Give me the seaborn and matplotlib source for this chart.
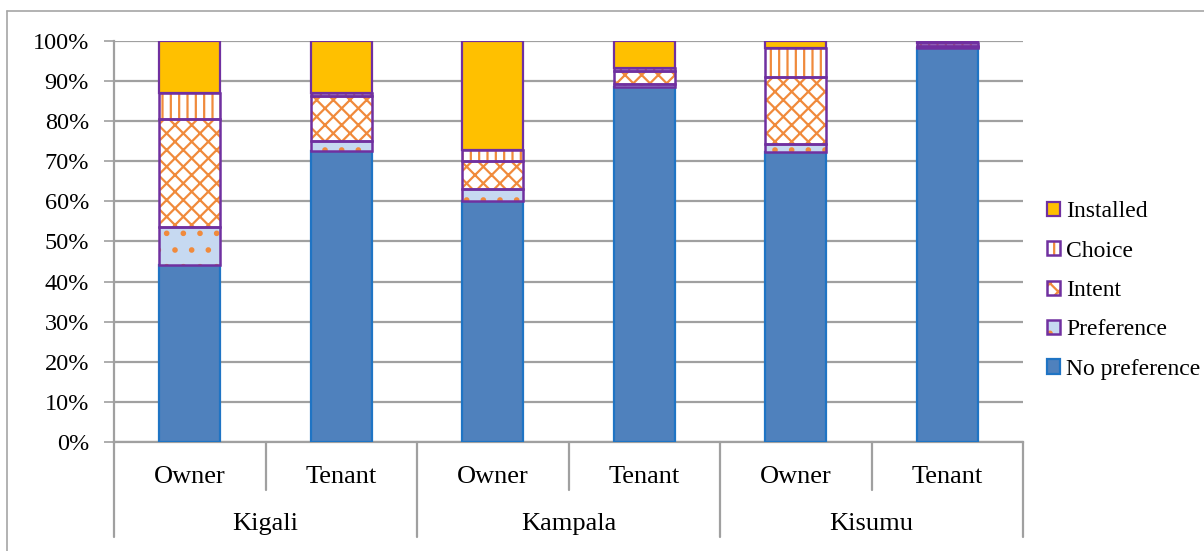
import numpy as np
import pandas as pd
import matplotlib
matplotlib.use("Agg")
import matplotlib.pyplot as plt
from matplotlib.lines import Line2D
from matplotlib.patches import Patch
from matplotlib.legend_handler import HandlerTuple
import matplotlib.transforms as mtransforms
from matplotlib.ticker import FuncFormatter
import seaborn as sns

# ---------------- data ----------------
cities = ["Kigali", "Kampala", "Kisumu"]
tenure = ["Owner", "Tenant"]
bar_ids = ["Kigali Owner", "Kigali Tenant", "Kampala Owner",
           "Kampala Tenant", "Kisumu Owner", "Kisumu Tenant"]
no_preference = [44.2, 72.6, 60.2, 88.6, 72.2, 98.2]
preference = [9.3, 2.5, 3.0, 0.6, 2.0, 0.3]
intent = [27.0, 11.2, 6.9, 3.2, 16.9, 0.3]
choice = [6.6, 0.7, 2.7, 0.8, 7.1, 0.7]
installed = [12.9, 13.0, 27.2, 6.8, 1.8, 0.5]
series_names = ["No preference", "Preference", "Intent", "Choice", "Installed"]
y_ticks = [0, 10, 20, 30, 40, 50, 60, 70, 80, 90, 100]

# ---------------- style ----------------
sns.set_theme(style="white")
plt.rcParams["font.family"] = ["Liberation Serif", "DejaVu Serif"]
plt.rcParams["text.color"] = "black"
plt.rcParams["hatch.linewidth"] = 1.6
FS_Y = 17.5
FS_CAT = 19
FS_LEG = 17
PURPLE = "#7030A0"
ORANGE = "#F08A3C"
GRID = "#A0A0A0"

styles = {
    "No preference": dict(face="#4F81BD", hatch=None, edge="#1F74C4"),
    "Preference": dict(face="#C6D9F1", hatch=".", edge=PURPLE),
    "Intent": dict(face="white", hatch="xx", edge=PURPLE),
    "Choice": dict(face="white", hatch="||", edge=PURPLE),
    "Installed": dict(face="#FFC000", hatch=None, edge=PURPLE),
}

df = pd.DataFrame({"bar": bar_ids, "No preference": no_preference,
                   "Preference": preference, "Intent": intent,
                   "Choice": choice, "Installed": installed})
for s in series_names:
    df[s] = df[s] / 100.0

fig = plt.figure(figsize=(12.04, 5.51), dpi=100)
ax = fig.add_axes([114 / 1204, 1 - 442 / 551, (1023 - 114) / 1204, 401 / 551])

W = 0.40
bottom = np.zeros(len(df))
for s in series_names:
    st = styles[s]
    vals = df[s].to_numpy()
    if st["hatch"] is None:
        sns.barplot(data=df, x="bar", y=s, order=bar_ids, bottom=bottom,
                    color=st["face"], saturation=1, width=W, errorbar=None,
                    edgecolor=st["edge"], linewidth=1.6, ax=ax, zorder=3)
    else:
        sns.barplot(data=df, x="bar", y=s, order=bar_ids, bottom=bottom,
                    color=st["face"], saturation=1, width=W, errorbar=None,
                    edgecolor=ORANGE, linewidth=0, hatch=st["hatch"],
                    ax=ax, zorder=3)
        sns.barplot(data=df, x="bar", y=s, order=bar_ids, bottom=bottom,
                    color=st["edge"], fill=False, width=W, errorbar=None,
                    linewidth=1.8, ax=ax, zorder=4)
    bottom = bottom + vals

# ---------------- axes ----------------
ax.set_xlim(-0.5, len(bar_ids) - 0.5)
ax.set_ylim(0, 1)
ax.set_yticks([t / 100 for t in y_ticks])
ax.yaxis.set_major_formatter(FuncFormatter(lambda v, p: f"{int(round(v * 100))}%"))
ax.tick_params(axis="y", labelsize=FS_Y, length=7, width=1.2, color=GRID,
               direction="out", pad=11, left=True, labelcolor="black")
ax.set_xticks([])
ax.set_xlabel("")
ax.set_ylabel("")
ax.grid(axis="y", color=GRID, linewidth=1.6, zorder=0)
ax.set_axisbelow(True)
for sp in ["top", "right"]:
    ax.spines[sp].set_visible(False)
for sp in ["left", "bottom"]:
    ax.spines[sp].set_color(GRID)
    ax.spines[sp].set_linewidth(1.6)

# two-tier category axis
trans = mtransforms.blended_transform_factory(ax.transData, ax.transAxes)
for i, b in enumerate(bar_ids):
    ax.text(i, -0.088, b.split(" ")[1], transform=trans, ha="center",
            va="center", fontsize=FS_CAT, color="black")
for j, c in enumerate(cities):
    ax.text(2 * j + 0.5, -0.205, c, transform=trans, ha="center",
            va="center", fontsize=FS_CAT, color="black")
for k in range(len(bar_ids) + 1):
    x = k - 0.5
    y_end = -0.237 if k % 2 == 0 else -0.12
    ax.plot([x, x], [0, y_end], transform=trans, color=GRID, lw=1.6,
            clip_on=False, zorder=1)

# legend
handles = []
for s in reversed(series_names):
    st = styles[s]
    if st["hatch"] is None:
        h = Patch(facecolor=st["face"], edgecolor=st["edge"], linewidth=1.6)
    else:
        h = (Patch(facecolor=st["face"], edgecolor=ORANGE, hatch=st["hatch"], linewidth=0),
             Patch(facecolor="none", edgecolor=st["edge"], linewidth=1.8))
    handles.append(h)
leg = fig.legend(handles, list(reversed(series_names)), loc="center left",
                 bbox_to_anchor=(1047 / 1204, 1 - 290.5 / 551), frameon=False,
                 fontsize=FS_LEG, handlelength=0.55, handleheight=0.55,
                 handletextpad=0.25, labelspacing=0.78, borderpad=0, borderaxespad=0,
                 handler_map={tuple: HandlerTuple(ndivide=1, pad=0)})
for t in leg.get_texts():
    t.set_color("black")

# outer chart border
fig.add_artist(Line2D([7 / 1204, 7 / 1204], [0, 1 - 11 / 551], transform=fig.transFigure,
                      color="#A6A6A6", lw=1.2))
fig.add_artist(Line2D([7 / 1204, 1], [1 - 11 / 551, 1 - 11 / 551], transform=fig.transFigure,
                      color="#A6A6A6", lw=1.2))

fig.savefig("out.png", dpi=100, facecolor="white")
